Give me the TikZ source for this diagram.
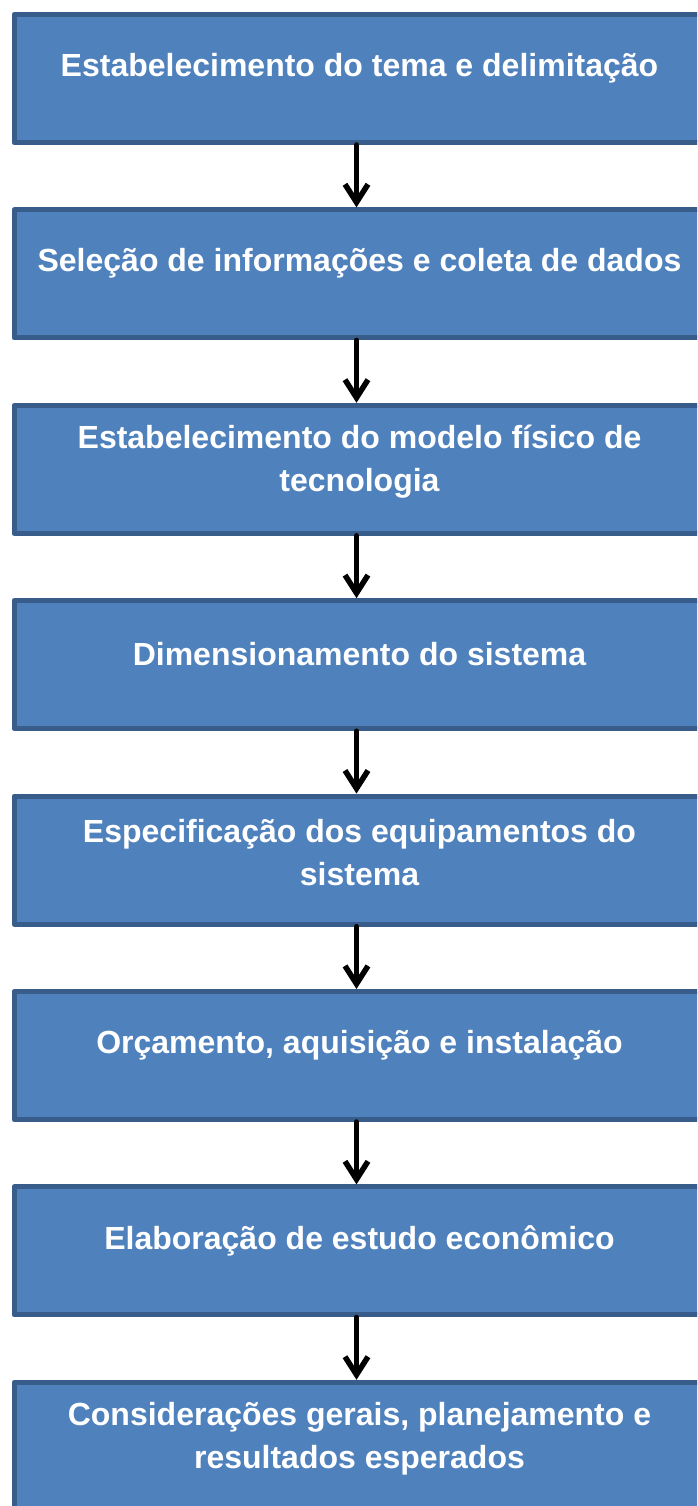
\documentclass[tikz,border=0pt]{standalone}
\usepackage{fontspec}
\setmainfont{Liberation Sans}
\usetikzlibrary{arrows.meta,positioning}

\definecolor{boxfill}{HTML}{4F81BD}
\definecolor{boxline}{HTML}{385D8A}

\tikzset{
  stagebox/.style={draw=boxline, fill=boxfill, line width=5pt, rectangle,
    minimum width=691pt, minimum height=128pt, inner sep=0pt},
  stagetext/.style={text=white, inner sep=0pt, align=center,
    font=\bfseries\fontsize{32}{43}\selectfont},
  flow/.style={line width=5.5pt, -{Straight Barb[length=18pt,width=23pt]}}
}

\begin{document}
\begin{tikzpicture}[x=1pt, y=-1pt, line cap=round, line join=round]

  % Moldura da figura
  \useasboundingbox (0,0) rectangle (697,1506);
  \clip (0,0) rectangle (697,1506);

  % Etapas
  \node[stagebox] (s1) at (359.5,78.5) {};
  \node[stagebox] (s2) at (359.5,273.9) {};
  \node[stagebox] (s3) at (359.5,469.3) {};
  \node[stagebox] (s4) at (359.5,664.7) {};
  \node[stagebox] (s5) at (359.5,860.1) {};
  \node[stagebox] (s6) at (359.5,1055.5) {};
  \node[stagebox] (s7) at (359.5,1250.9) {};
  \node[stagebox] (s8) at (359.5,1446.3) {};

  % Textos das etapas
  \node[stagetext] (t1) at ([yshift=-56pt]s1.north) {Estabelecimento do tema e delimitação};
  \node[stagetext] (t2) at ([yshift=-56pt]s2.north) {Seleção de informações e coleta de dados};
  \node[stagetext] (t3) at ([yshift=-59pt]s3.north) {Estabelecimento do modelo físico de\\tecnologia};
  \node[stagetext] (t4) at ([yshift=-56pt]s4.north) {Dimensionamento do sistema};
  \node[stagetext] (t5) at ([yshift=-59pt]s5.north) {Especificação dos equipamentos do\\sistema};
  \node[stagetext] (t6) at ([yshift=-56pt]s6.north) {Orçamento, aquisição e instalação};
  \node[stagetext] (t7) at ([yshift=-56pt]s7.north) {Elaboração de estudo econômico};
  \node[stagetext] (t8) at ([yshift=-59pt]s8.north) {Considerações gerais, planejamento e\\resultados esperados};

  % Setas entre etapas
  \draw[flow] ([xshift=-3pt]s1.south) -- ([xshift=-3pt]s2.north);
  \draw[flow] ([xshift=-3pt]s2.south) -- ([xshift=-3pt]s3.north);
  \draw[flow] ([xshift=-3pt]s3.south) -- ([xshift=-3pt]s4.north);
  \draw[flow] ([xshift=-3pt]s4.south) -- ([xshift=-3pt]s5.north);
  \draw[flow] ([xshift=-3pt]s5.south) -- ([xshift=-3pt]s6.north);
  \draw[flow] ([xshift=-3pt]s6.south) -- ([xshift=-3pt]s7.north);
  \draw[flow] ([xshift=-3pt]s7.south) -- ([xshift=-3pt]s8.north);

\end{tikzpicture}
\end{document}
